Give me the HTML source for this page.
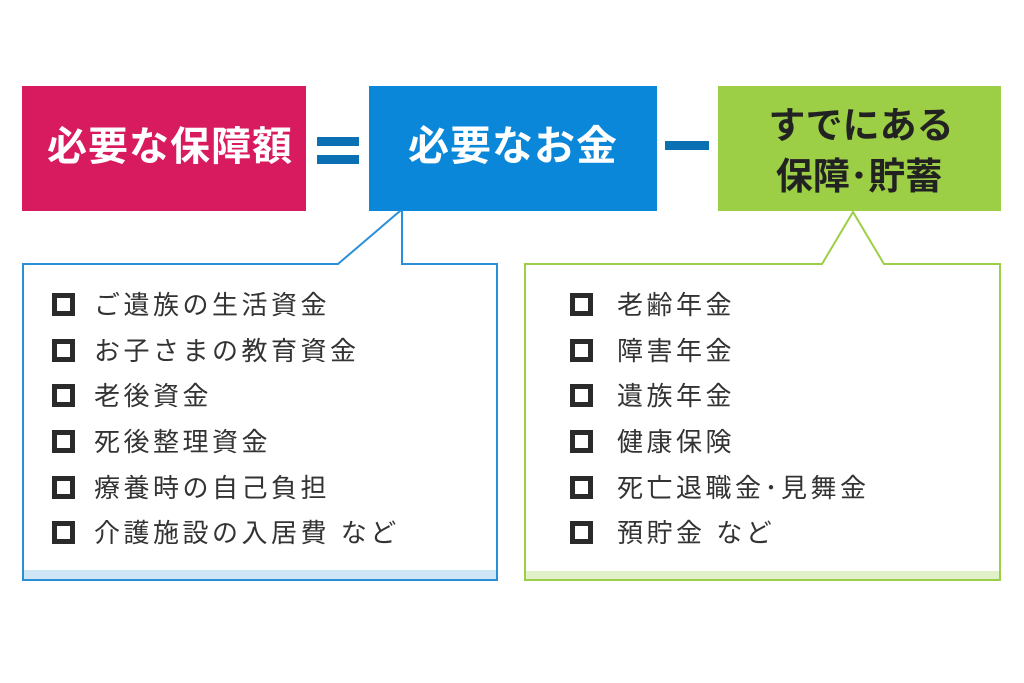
<!DOCTYPE html>
<html><head><meta charset="utf-8"><style>
html,body{margin:0;padding:0;background:#fff;}
svg{display:block;}
text{font-family:"Liberation Sans","Noto Sans CJK JP",sans-serif;}
</style></head><body>
<svg width="1024" height="683" viewBox="0 0 1024 683" xmlns="http://www.w3.org/2000/svg">
<rect x="0" y="0" width="1024" height="683" fill="#fff"/>
<rect x="22" y="86" width="284" height="125" fill="#d81b5e"/>
<rect x="369" y="86" width="288" height="125" fill="#0a87d9"/>
<rect x="718" y="86" width="283" height="125" fill="#9ccf45"/>
<text x="170" y="160" text-anchor="middle" font-size="40" font-weight="bold" fill="#fff" letter-spacing="1">必要な保障額</text>
<text x="513" y="160" text-anchor="middle" font-size="41" font-weight="bold" fill="#fff" letter-spacing="1">必要なお金</text>
<text x="861" y="138" text-anchor="middle" font-size="37" font-weight="bold" fill="#222">すでにある</text>
<text x="859" y="189" text-anchor="middle" font-size="37" font-weight="bold" fill="#222">保障･貯蓄</text>
<rect x="317" y="137" width="42" height="9" fill="#0a6fb3"/>
<rect x="317" y="155" width="42" height="9" fill="#0a6fb3"/>
<rect x="665" y="141" width="44" height="9" fill="#0a6fb3"/>
<rect x="23" y="570" width="474" height="10" fill="#cfe6f6"/>
<path d="M338 264 L400 211 L402 211 L402 264 L497 264 L497 580 L23 580 L23 264 Z" fill="none" stroke="#2a8fd6" stroke-width="2"/>
<rect x="525" y="571" width="475" height="9" fill="#e0f0c8"/>
<path d="M822 264 L853 212 L884 264 L1000 264 L1000 580 L525 580 L525 264 Z" fill="none" stroke="#9ccf45" stroke-width="2"/>
<g fill="none" stroke="#2a2a2a" stroke-width="5">
<rect x="54.5" y="295.5" width="18" height="18"/>
<rect x="54.5" y="341.5" width="18" height="18"/>
<rect x="54.5" y="386.5" width="18" height="18"/>
<rect x="54.5" y="432.5" width="18" height="18"/>
<rect x="54.5" y="478.5" width="18" height="18"/>
<rect x="54.5" y="523.5" width="18" height="18"/>
<rect x="572.5" y="295.5" width="18" height="18"/>
<rect x="572.5" y="341.5" width="18" height="18"/>
<rect x="572.5" y="386.5" width="18" height="18"/>
<rect x="572.5" y="432.5" width="18" height="18"/>
<rect x="572.5" y="478.5" width="18" height="18"/>
<rect x="572.5" y="523.5" width="18" height="18"/>
</g>
<g font-size="26" fill="#333" letter-spacing="3.5">
<text x="94" y="314">ご遺族の生活資金</text>
<text x="94" y="360">お子さまの教育資金</text>
<text x="94" y="405">老後資金</text>
<text x="94" y="451">死後整理資金</text>
<text x="94" y="497">療養時の自己負担</text>
<text x="94" y="542">介護施設の入居費 など</text>
<text x="617" y="314">老齢年金</text>
<text x="617" y="360">障害年金</text>
<text x="617" y="405">遺族年金</text>
<text x="617" y="451">健康保険</text>
<text x="617" y="497">死亡退職金･見舞金</text>
<text x="617" y="542">預貯金 など</text>
</g>
</svg>
</body></html>
